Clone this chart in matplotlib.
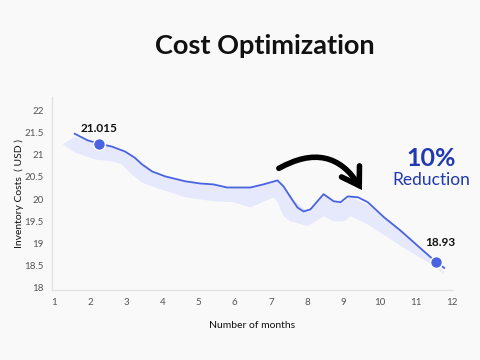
import matplotlib.pyplot as plt
from matplotlib.patches import FancyArrowPatch

# cost curve (months, USD)
months = [1.58, 1.94, 2.25, 2.61, 2.97, 3.24, 3.44, 3.72, 4.08, 4.63, 5.05,
          5.41, 5.79, 6.43, 6.79, 7.18, 7.35, 7.54, 7.73, 7.90, 8.09, 8.45,
          8.73, 8.92, 9.12, 9.40, 9.67, 10.12, 10.59, 11.06, 11.56, 11.78]
costs = [21.47, 21.32, 21.25, 21.18, 21.07, 20.93, 20.78, 20.62, 20.51,
         20.40, 20.35, 20.33, 20.26, 20.26, 20.33, 20.42, 20.28, 20.04,
         19.81, 19.72, 19.77, 20.11, 19.95, 19.93, 20.06, 20.04, 19.93,
         19.59, 19.28, 18.94, 18.58, 18.45]

# shaded band under the curve
band_x = [1.25, 1.58, 2.14, 2.61, 2.88, 3.16, 3.44, 3.80, 4.63, 5.41, 5.96,
          6.43, 7.07, 7.18, 7.35, 7.54, 8.01, 8.45, 8.73, 9.01, 9.20, 9.67,
          10.59, 11.50, 11.78]
band_top = [21.23, 21.40, 21.26, 21.17, 21.10, 21.00, 20.80, 20.60, 20.38,
            20.32, 20.26, 20.25, 20.40, 20.40, 20.25, 20.04, 19.72, 20.09,
            19.93, 19.93, 20.05, 19.87, 19.30, 18.60, 18.35]
band_bottom = [21.23, 21.05, 20.89, 20.85, 20.78, 20.55, 20.37, 20.26,
               20.04, 19.95, 19.93, 19.81, 20.04, 19.93, 19.61, 19.50, 19.39,
               19.61, 19.50, 19.50, 19.61, 19.43, 18.94, 18.49, 18.31]

# highlighted points and their labels
point_x = [2.25, 11.56]
point_y = [21.25, 18.58]
point_labels = ['21.015', '18.93']

xticks = list(range(1, 13))
yticks = [18, 18.5, 19, 19.5, 20, 20.5, 21, 21.5, 22]
ytick_labels = ['18', '18.5', '19', '19.5', '20', '20.5', '21', '21.5', '22']

BG = '#f9f9f9'
LINE = '#4a63e0'
BAND = '#e6e9fb'
BLUE_TXT = '#2038b0'

plt.rcParams['font.family'] = ['Lato', 'DejaVu Sans']

fig = plt.figure(figsize=(4.8, 3.6), dpi=100, facecolor=BG)
ax = fig.add_axes([0.108, 0.194, 0.834, 0.537])
ax.set_facecolor(BG)

band_poly_x = band_x + band_x[::-1]
band_poly_y = band_top + band_bottom[::-1]
ax.fill(band_poly_x, band_poly_y, color=BAND, linewidth=0, zorder=1)
ax.plot(months, costs, color=LINE, linewidth=1.3, zorder=2,
        solid_joinstyle='round')
ax.plot(point_x, point_y, 'o', color=LINE, markersize=8.5,
        markeredgecolor='white', markeredgewidth=1.0, zorder=3)

ax.text(point_x[0], point_y[0] + 0.33, point_labels[0], ha='center',
        va='center', fontsize=8.5, fontweight='bold', color='#111111')
ax.text(point_x[1] + 0.1, point_y[1] + 0.44, point_labels[1], ha='center',
        va='center', fontsize=8.5, fontweight='bold', color='#111111')

ax.text(11.42, 20.92, '10%', ha='center', va='center', fontsize=18,
        fontweight='bold', color=BLUE_TXT)
ax.text(11.42, 20.44, 'Reduction', ha='center', va='center', fontsize=12.5,
        color=BLUE_TXT)

# curved "reduction" arrow
arrow = FancyArrowPatch((7.15, 20.66), (9.55, 20.15),
                        connectionstyle='arc3,rad=-0.5',
                        arrowstyle='->,head_length=0.6,head_width=0.38',
                        mutation_scale=20, color='black', linewidth=4.0,
                        capstyle='round', joinstyle='miter', zorder=4)
ax.add_patch(arrow)

ax.set_xlim(0.95, 12.0)
ax.set_ylim(17.95, 22.3)
ax.set_xticks(xticks)
ax.set_yticks(yticks)
ax.set_yticklabels(ytick_labels)
ax.tick_params(length=0, labelsize=7, colors='#555555', pad=6)
for side in ['top', 'right']:
    ax.spines[side].set_visible(False)
for side in ['left', 'bottom']:
    ax.spines[side].set_color('#e2e2e2')
    ax.spines[side].set_linewidth(1.0)

ax.set_xlabel('Number of months', fontsize=7.5, color='#111111', labelpad=10)
ax.set_ylabel('Inventory Costs  ( USD )', fontsize=7.5, color='#111111',
              labelpad=0)

fig.text(0.552, 0.872, 'Cost Optimization', ha='center', va='center',
         fontsize=19.5, fontweight='bold', color='#111111')

fig.savefig('out.png', dpi=100, facecolor=BG)
